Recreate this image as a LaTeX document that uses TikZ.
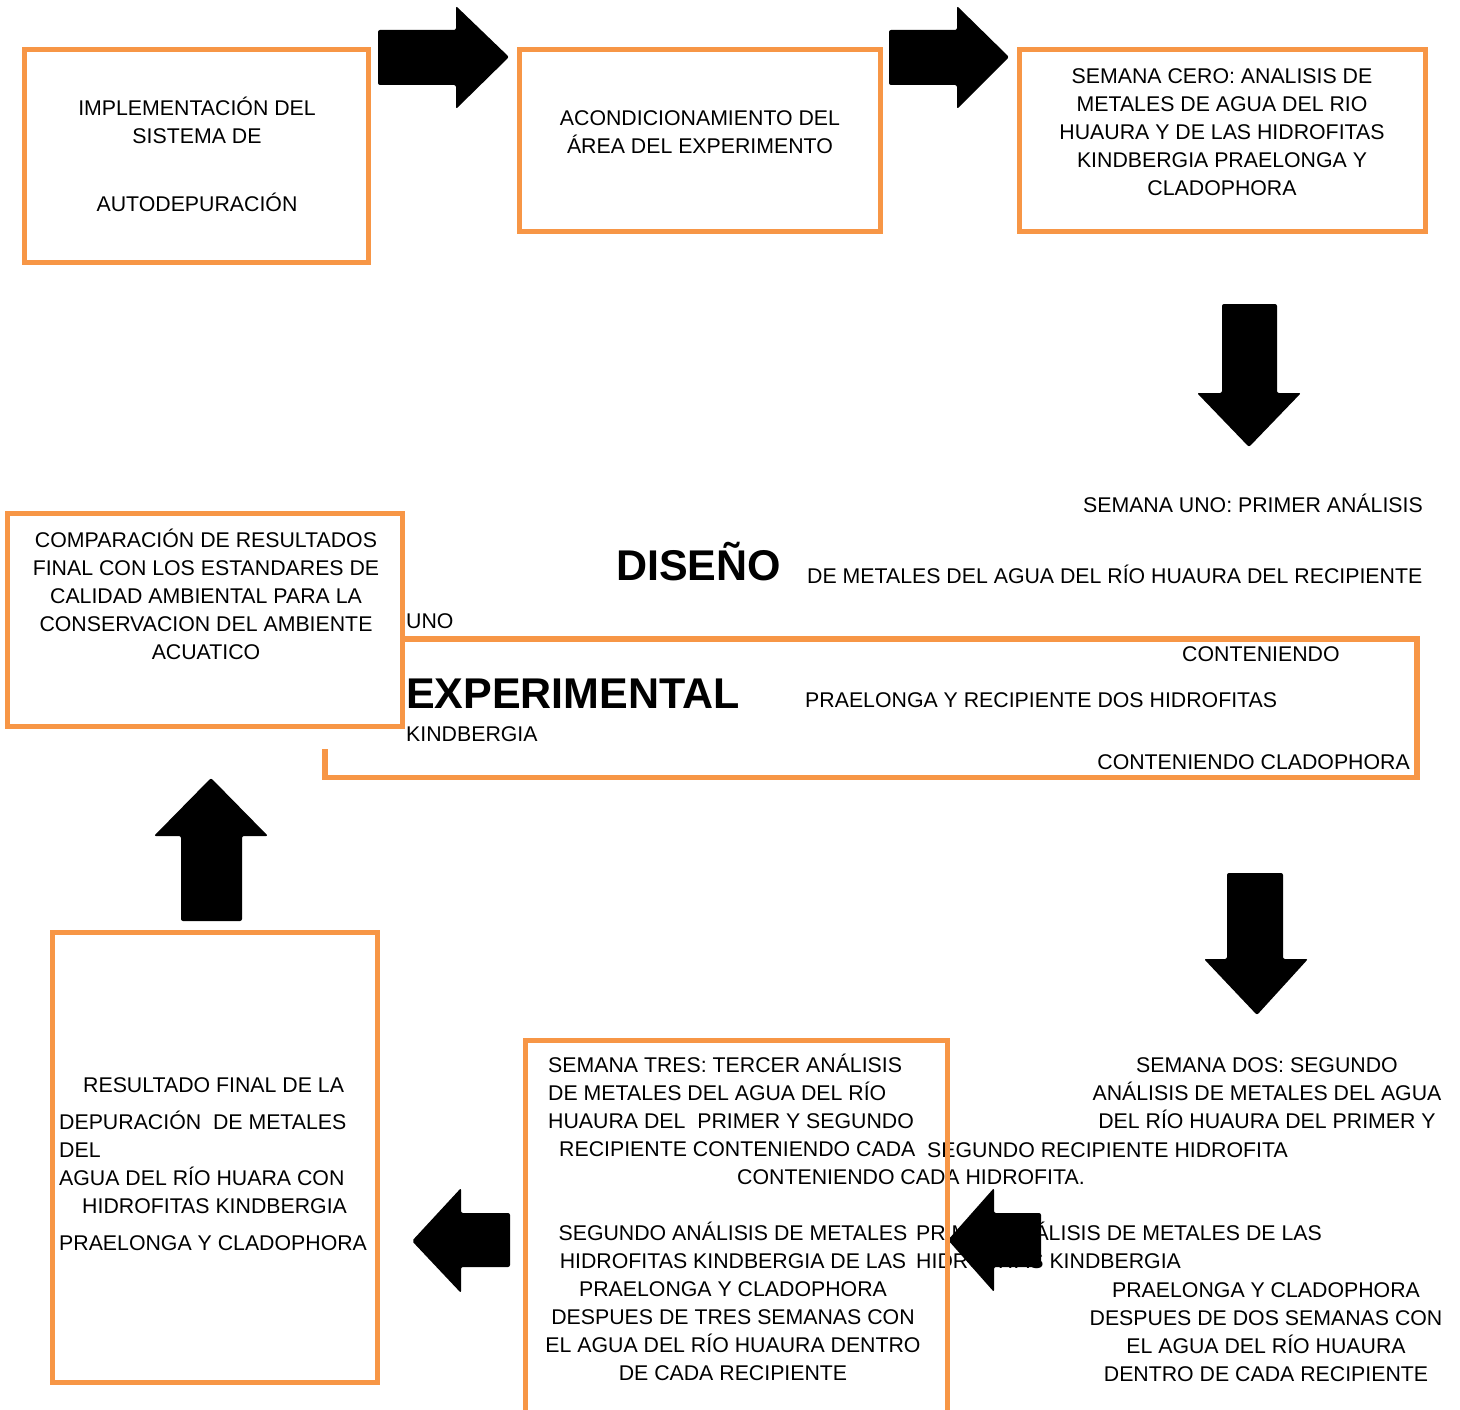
\documentclass[tikz,border=0pt]{standalone}
\usepackage{fontspec}
\setmainfont{Liberation Sans}
\definecolor{frameorange}{HTML}{F79646}
\tikzset{
  frame/.style={draw=frameorange,line width=5.5pt},
  blockarrow/.style={fill=black,rounded corners=2pt},
  txt/.style={font=\fontsize{21.3}{28}\selectfont,inner sep=0pt},
  bigtxt/.style={font=\fontsize{43}{50}\selectfont\bfseries,inner sep=0pt}
}

\begin{document}
\begin{tikzpicture}[x=1pt,y=-1pt]
\useasboundingbox (0,0) rectangle (1460,1410);

% texts
\node[txt,align=center] (impl) at (197,154.5) {IMPLEMENTACIÓN DEL\\SISTEMA DE\\[40pt]AUTODEPURACIÓN};
\node[txt,align=center] (acond) at (700,132) {ACONDICIONAMIENTO DEL\\ÁREA DEL EXPERIMENTO};
\node[txt,align=center] (cero) at (1222,132.5) {SEMANA CERO: ANALISIS DE\\METALES DE AGUA DEL RIO\\HUAURA Y DE LAS HIDROFITAS\\KINDBERGIA PRAELONGA Y\\CLADOPHORA};
\node[txt,align=center] (compar) at (206,594.5) {COMPARACIÓN DE RESULTADOS\\FINAL CON LOS ESTANDARES DE\\CALIDAD AMBIENTAL PARA LA\\CONSERVACION DEL AMBIENTE\\ACUATICO};

\node[txt,anchor=base east] (uno) at (1423,512) {SEMANA UNO: PRIMER ANÁLISIS};
\node[bigtxt,anchor=base west] (diseno) at (616,580) {DISEÑO};
\node[txt,anchor=base west] (unoa) at (807,583) {DE METALES DEL AGUA DEL RÍO HUAURA DEL RECIPIENTE};
\node[txt,anchor=base west] (unob) at (406,628.5) {UNO};
\node[txt,anchor=base west] (unoc) at (1182,661) {CONTENIENDO};
\node[bigtxt,anchor=base west] (exper) at (406,708) {EXPERIMENTAL};
\node[txt,anchor=base west] (unod) at (805,707.5) {PRAELONGA Y RECIPIENTE DOS HIDROFITAS};
\node[txt,anchor=base west] (unoe) at (406,741) {KINDBERGIA};
\node[txt,anchor=base east] (unof) at (1410,769) {CONTENIENDO CLADOPHORA};

\node[txt,align=center] (dos) at (1267,1093) {SEMANA DOS: SEGUNDO\\ANÁLISIS DE METALES DEL AGUA\\DEL RÍO HUAURA DEL PRIMER Y};
\node[txt,anchor=base west] (dosa) at (927,1157) {SEGUNDO RECIPIENTE HIDROFITA};
\node[txt,anchor=base west] (dosb) at (737,1184) {CONTENIENDO CADA HIDROFITA.};
\node[txt,align=left,anchor=west] (dosc) at (916,1245) {PRIMER ANÁLISIS DE METALES DE LAS\\HIDROFITAS KINDBERGIA};
\node[txt,align=center] (dosd) at (1266,1332) {PRAELONGA Y CLADOPHORA\\DESPUES DE DOS SEMANAS CON\\EL AGUA DEL RÍO HUAURA\\DENTRO DE CADA RECIPIENTE};

\node[txt,align=left,anchor=west] (tres) at (548,1105.5) {SEMANA TRES: TERCER ANÁLISIS\\DE METALES DEL AGUA DEL RÍO\\HUAURA DEL\ \ PRIMER Y SEGUNDO\\\hspace*{11pt}RECIPIENTE CONTENIENDO CADA};
\node[txt,align=center] (tresa) at (733,1301.5) {SEGUNDO ANÁLISIS DE METALES\\HIDROFITAS KINDBERGIA DE LAS\\PRAELONGA Y CLADOPHORA\\DESPUES DE TRES SEMANAS CON\\EL AGUA DEL RÍO HUAURA DENTRO\\DE CADA RECIPIENTE};

\node[txt,align=left,anchor=west] (final) at (59,1164.5) {\hspace*{24pt}RESULTADO FINAL DE LA\\[9pt]DEPURACIÓN\ \ DE METALES\\DEL\\AGUA DEL RÍO HUARA CON\\\hspace*{23pt}HIDROFITAS KINDBERGIA\\[9pt]PRAELONGA Y CLADOPHORA};

% arrows
\fill[blockarrow] (378,30) -- (456,30) -- (456,6) -- (509,57) -- (456,109) -- (456,85) -- (378,85) -- cycle;
\fill[blockarrow] (889,30) -- (957,30) -- (957,6) -- (1009,57) -- (957,109) -- (957,85) -- (889,85) -- cycle;
\fill[blockarrow] (1222,304) -- (1277,304) -- (1277,393) -- (1301,393) -- (1249,447) -- (1197,393) -- (1222,393) -- cycle;
\fill[blockarrow] (1227,873) -- (1283,873) -- (1283,959) -- (1308,959) -- (1257,1015) -- (1204,959) -- (1227,959) -- cycle;
\fill[blockarrow] (1041,1213) -- (994,1213) -- (994,1188) -- (948,1240) -- (994,1292) -- (994,1267) -- (1041,1267) -- cycle;
\fill[blockarrow] (510,1213) -- (461,1213) -- (461,1188) -- (412,1241) -- (461,1293) -- (461,1267) -- (510,1267) -- cycle;
\fill[blockarrow] (181,921) -- (242,921) -- (242,836) -- (268,836) -- (211,778) -- (154,836) -- (181,836) -- cycle;

% frames
\draw[frame] (24.5,49.5) rectangle (368.5,262.5);
\draw[frame] (519.5,49.5) rectangle (880.5,231.5);
\draw[frame] (1019.5,49.5) rectangle (1425.5,231.5);
\draw[frame] (7.5,513.5) rectangle (402.5,726.5);
\draw[frame] (402.5,639) -- (1417,639) -- (1417,777.5) -- (325,777.5) -- (325,749);
\draw[frame] (52.5,932.5) rectangle (377.5,1382.5);
\draw[frame] (525.5,1413) |- (947.5,1040.5) -- (947.5,1413);
\end{tikzpicture}
\end{document}
